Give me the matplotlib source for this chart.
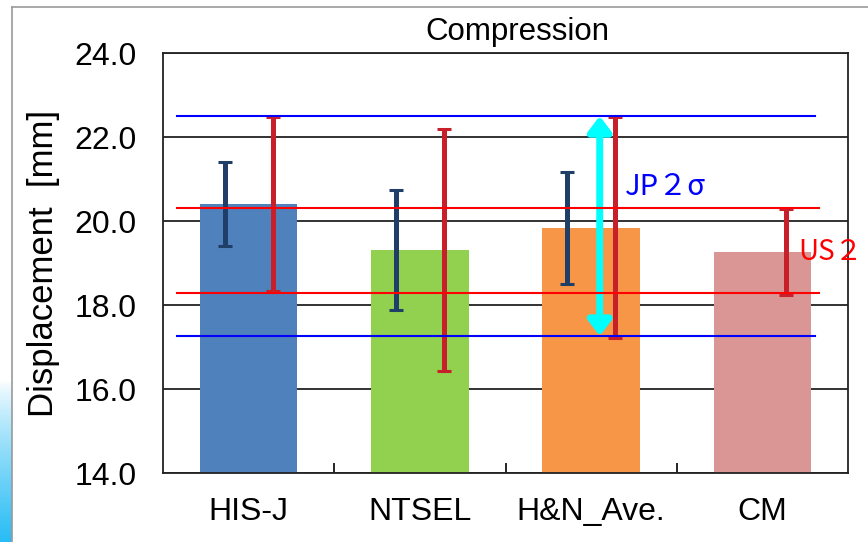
import numpy as np
import matplotlib
matplotlib.use('Agg')
from matplotlib import pyplot as plt
from matplotlib.lines import Line2D

plt.rcParams['font.family'] = ['Liberation Sans', 'DejaVu Sans']

'''Compression displacement data [mm]'''
categories = ['HIS-J', 'NTSEL', 'H&N_Ave.', 'CM']
means = [20.40, 19.31, 19.84, 19.27]
sd_blue = [1.00, 1.43, 1.33]          # HIS-J, NTSEL, H&N only
sd_red = [2.07, 2.88, 2.63, 1.02]
bar_colors = ['#4F81BD', '#92D050', '#F79646', '#D99694']

jp_band = [17.26, 22.50]   # JP 2 sigma
us_band = [18.29, 20.31]   # US 2 sigma

fig = plt.figure(figsize=(8.68, 5.42), dpi=100)
ax = fig.add_axes([0.1878, 0.1273, 0.7892, 0.7749])

x = np.arange(len(categories))
ax.bar(x, means, width=0.57, color=bar_colors, zorder=2)

off = 0.14
ax.errorbar(x[:3] - off, means[:3], yerr=sd_blue, fmt='none', ecolor='#1F3F68',
            elinewidth=3.6, capsize=5, capthick=2.2, zorder=4)
ax.errorbar(x + off, means, yerr=sd_red, fmt='none', ecolor='#C8202A',
            elinewidth=3.6, capsize=5, capthick=2.2, zorder=4)

# band lines
for v in jp_band:
    ax.plot([-0.42, 3.31], [v, v], color='#0000FF', lw=1.5, zorder=5)
for v in us_band:
    ax.plot([-0.42, 3.33], [v, v], color='#FF0000', lw=1.5, zorder=5)

# JP band arrow
ax.annotate('', xy=(2.05, jp_band[1]), xytext=(2.05, jp_band[0]),
            arrowprops=dict(arrowstyle='<|-|>,head_length=0.45,head_width=0.34',
                            mutation_scale=20, color='#00FFFF', lw=5,
                            shrinkA=0, shrinkB=0), zorder=3)

ax.text(2.2, 20.81, 'JP２σ', color='#0000FF', fontsize=21, va='center',
        family=['Noto Sans CJK JP', 'DejaVu Sans'])
ax.text(3.21, 19.26, 'US２', color='#FF0000', fontsize=20, va='center',
        family=['Noto Sans CJK JP', 'DejaVu Sans'], clip_on=False)

ax.set_xlim(-0.5, 3.5)
ax.set_ylim(14, 24)
ax.set_yticks(np.arange(14, 24.1, 2))
ax.set_yticklabels(['%.1f' % t for t in np.arange(14, 24.1, 2)], fontsize=23)
ax.set_xticks(x)
ax.set_xticklabels(categories, fontsize=23)
ax.set_xticks(np.arange(0.5, 3.5, 1), minor=True)
ax.tick_params(axis='x', which='major', length=0, pad=17)
ax.tick_params(axis='x', which='minor', direction='in', length=7, width=1.2)
ax.tick_params(axis='y', length=0, pad=19)
ax.yaxis.grid(True, color='#222222', lw=1.3, zorder=1)
ax.set_axisbelow(True)
for s in ax.spines.values():
    s.set_linewidth(1.3)
    s.set_color('#222222')

ax.set_ylabel('Displacement  [mm]', fontsize=25, labelpad=10)
fig.text(0.596, 0.941, 'Compression', fontsize=22.5, ha='center', va='center')

# outer frame
fig.add_artist(Line2D([12/868, 12/868], [0, 1 - 7/542], color='#999999', lw=1.2))
fig.add_artist(Line2D([12/868, 1], [1 - 7/542, 1 - 7/542], color='#999999', lw=1.2))

# side gradient strip
gax = fig.add_axes([0, 0, 12/868, 162/542])
grad = np.linspace(0, 1, 100).reshape(-1, 1)
top = np.array([1.0, 1.0, 1.0])
bot = np.array([0.16, 0.74, 0.96])
img = top + (bot - top) * grad[:, :, None] ** 0.8
gax.imshow(img, aspect='auto', extent=[0, 1, 0, 1])
gax.axis('off')

plt.savefig('out.png', dpi=100)
